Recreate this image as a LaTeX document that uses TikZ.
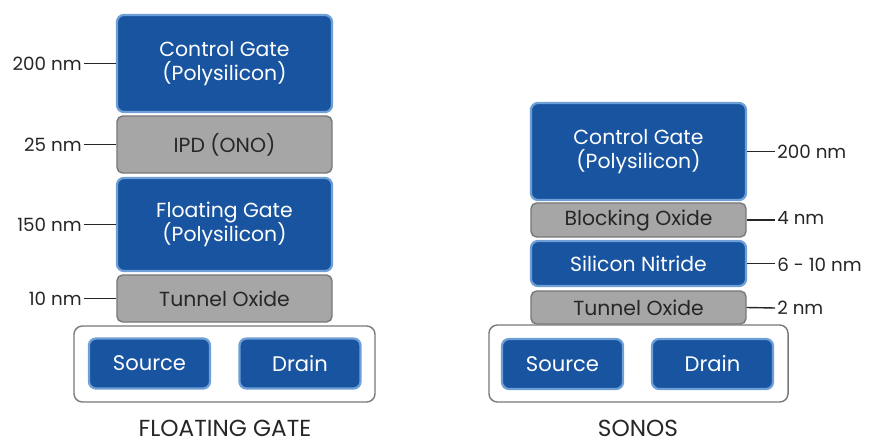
\documentclass[tikz,border=0pt]{standalone}
\usepackage{fontspec}
\setmainfont{Poppins}
\usepackage{tikz}
\usetikzlibrary{positioning,calc}

\definecolor{gateblue}{RGB}{24,84,160}
\definecolor{gaterim}{RGB}{110,160,215}
\definecolor{oxgray}{RGB}{166,166,166}
\definecolor{oxrim}{RGB}{120,120,120}
\definecolor{subrim}{RGB}{120,120,120}

\begin{document}
\begin{tikzpicture}[
        x=0.025cm, y=-0.025cm,
        poly/.style={rectangle, rounded corners=5pt, draw=gaterim, line width=1.6pt, fill=gateblue,
          text=white, align=center, font=\fontsize{14.5}{17.5}\selectfont, minimum width=5.375cm, inner sep=0pt},
        oxide/.style={rectangle, rounded corners=4pt, draw=oxrim, line width=1pt, fill=oxgray,
          text=black!85, align=center, font=\fontsize{14.5}{17.5}\selectfont, minimum width=5.375cm, inner sep=0pt},
        well/.style={rectangle, rounded corners=6pt, draw=subrim, line width=1pt, fill=white, inner sep=0pt},
        sd/.style={poly, minimum width=3.025cm, minimum height=1.25cm, font=\fontsize{15}{17}\selectfont},
        dim/.style={font=\fontsize{13}{15}\selectfont, text=black!85, inner sep=1.5pt},
        tick/.style={line width=1pt, black!85},
        title/.style={font=\fontsize{16.5}{19}\selectfont, text=black!85, inner sep=0pt, anchor=base}
      ]
        \useasboundingbox (0,0) rectangle (880,445);

        % floating gate stack
        \node[poly, minimum height=2.425cm] (cg1) at (224.5,63.5) {Control Gate\\(Polysilicon)};
        \node[oxide, minimum height=1.425cm] (ipd) at (224.5,144.5) {IPD (ONO)};
        \node[poly, minimum height=2.325cm] (fg) at (224.5,224.5) {Floating Gate\\(Polysilicon)};
        \node[oxide, minimum height=1.175cm] (to1) at (224.5,298.5) {Tunnel Oxide};
        \node[well, minimum width=7.525cm, minimum height=1.9cm] (sub1) at (224.5,364) {};
        \node[sd] (src1) at (149.5,363.5) {Source};
        \node[sd] (drn1) at (300,363.5) {Drain};
        \node[title] (fgname) at (225,436) {FLOATING GATE};

        \node[dim, anchor=east] (d1) at (84,63.5) {200 nm};
        \node[dim, anchor=east] (d2) at (84,144.5) {25 nm};
        \node[dim, anchor=east] (d3) at (84,224.5) {150 nm};
        \node[dim, anchor=east] (d4) at (84,298.5) {10 nm};
        \draw[tick] (d1.east) -- (cg1.west);
        \draw[tick] (d2.east) -- (ipd.west);
        \draw[tick] (d3.east) -- (fg.west);
        \draw[tick] (d4.east) -- (to1.west);

        % sonos stack
        \node[poly, minimum height=2.425cm] (cg2) at (638.5,151.5) {Control Gate\\(Polysilicon)};
        \node[oxide, minimum height=0.85cm] (bo) at (638.5,220) {Blocking Oxide};
        \node[poly, minimum height=1.125cm] (sn) at (638.5,263.5) {Silicon Nitride};
        \node[oxide, minimum height=0.825cm] (to2) at (638.5,307.5) {Tunnel Oxide};
        \node[well, minimum width=7.475cm, minimum height=1.925cm] (sub2) at (638.5,363.5) {};
        \node[sd] (src2) at (562.5,364) {Source};
        \node[sd] (drn2) at (712.5,364) {Drain};
        \node[title] (snname) at (638,436) {SONOS};

        \node[dim, anchor=west] (e1) at (775,151.5) {200 nm};
        \node[dim, anchor=west] (e2) at (775,218) {4 nm};
        \node[dim, anchor=west] (e3) at (775,265) {6 - 10 nm};
        \node[dim, anchor=west] (e4) at (775,308) {2 nm};
        \draw[tick] (cg2.east) -- (e1.west);
        \draw[tick] (bo.east) -- (bo.east -| e2.west);
        \draw[tick] (sn.east) -- (sn.east -| e3.west);
        \draw[tick] (to2.east) -- (e4.west);

      \end{tikzpicture}
\end{document}
